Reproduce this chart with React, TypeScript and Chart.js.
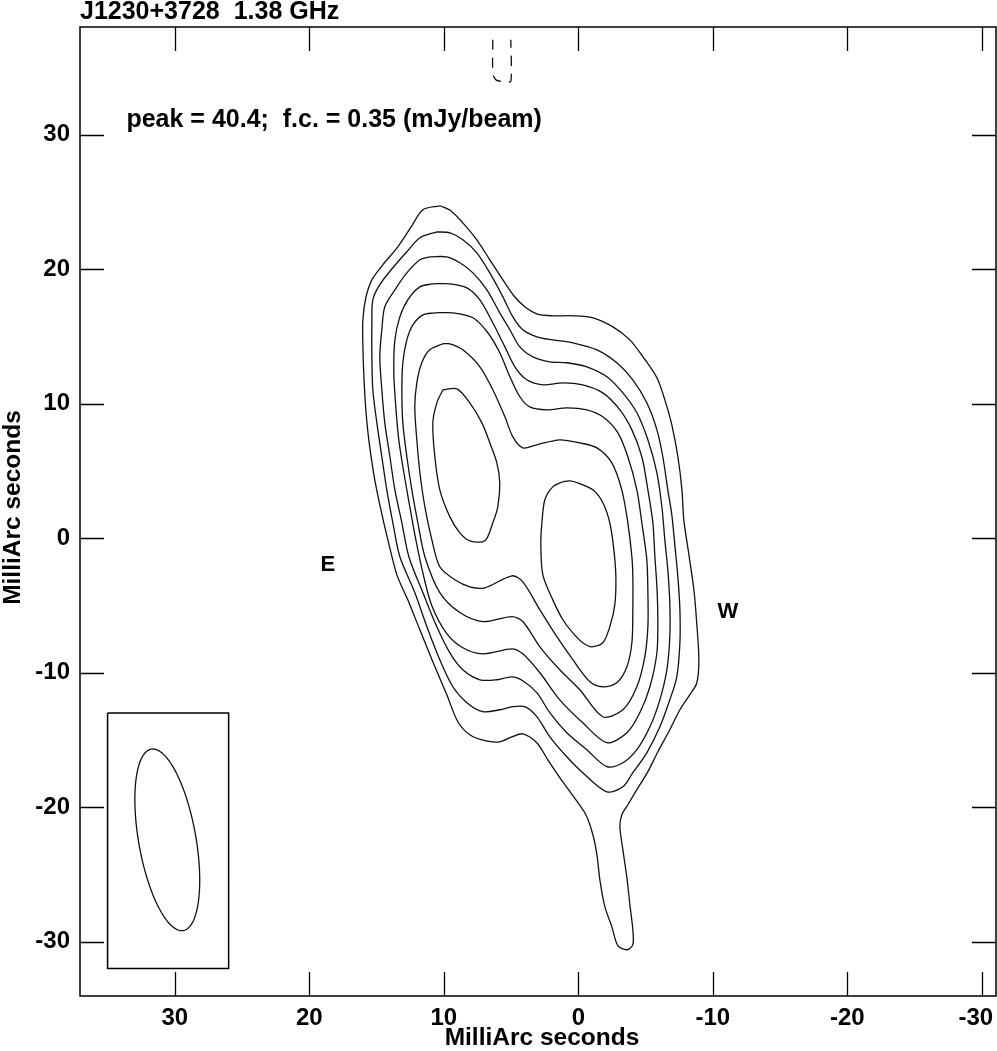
import React, { useEffect, useRef } from 'react';
import { Chart, registerables } from 'chart.js';

Chart.register(...registerables);

// ---------- data ----------
const titleText = 'J1230+3728  1.38 GHz';
const peakText = 'peak = 40.4;  f.c. = 0.35 (mJy/beam)';
const axisTitle = 'MilliArc seconds';

const xTickValues = [30, 20, 10, 0, -10, -20, -30];
const yTickValues = [30, 20, 10, 0, -10, -20, -30];
const xMin = -31.05;
const xMax = 37.05;
const yMin = -34.04;
const yMax = 38.0;

// contour levels, outermost (1) to innermost (7, two components)
const contour1: [number, number][] = [
  [10.30, 24.71], [11.56, 24.41], [12.38, 23.22], [13.42, 21.66], [14.54, 20.32], [15.35, 19.20],
  [15.80, 17.87], [16.02, 16.23], [16.02, 14.37], [15.95, 12.14], [15.80, 9.54], [15.58, 7.31],
  [15.20, 4.71], [14.76, 2.48], [14.16, -0.13], [13.49, -2.73], [12.68, -4.59], [11.78, -6.82],
  [10.82, -9.19], [9.78, -11.64], [8.96, -13.65], [8.07, -14.62], [6.95, -15.06], [5.84, -15.14],
  [4.94, -14.77], [4.13, -14.55], [3.09, -15.21], [2.27, -16.48], [1.38, -17.81], [0.41, -19.15],
  [-0.56, -20.57], [-1.08, -22.05], [-1.38, -23.54], [-1.60, -25.40], [-1.97, -27.40], [-2.49, -28.89],
  [-2.94, -30.30], [-3.61, -30.60], [-4.05, -30.22], [-4.05, -29.11], [-3.83, -27.25], [-3.61, -25.25],
  [-3.31, -23.16], [-3.09, -21.45], [-3.23, -20.57], [-3.68, -19.82], [-4.35, -18.70], [-5.17, -17.36],
  [-5.91, -15.88], [-6.80, -14.25], [-7.55, -12.76], [-8.29, -11.64], [-8.81, -10.75], [-8.96, -9.04],
  [-8.81, -6.44], [-8.59, -3.84], [-8.22, -1.24], [-7.84, 1.36], [-7.70, 3.59], [-7.40, 6.05],
  [-6.95, 8.42], [-6.43, 10.28], [-5.84, 11.92], [-4.80, 13.48], [-3.83, 14.74], [-2.57, 15.71],
  [-1.08, 16.38], [0.41, 16.53], [1.90, 16.53], [3.09, 16.68], [3.98, 17.20], [4.80, 18.02],
  [5.61, 19.20], [6.58, 20.69], [7.55, 22.18], [8.59, 23.44], [9.48, 24.34],
];

const contour2: [number, number][] = [
  [10.52, 22.77], [11.78, 22.33], [12.75, 21.29], [13.79, 20.10], [14.76, 18.84], [15.28, 17.72],
  [15.35, 16.01], [15.35, 13.48], [15.28, 11.03], [14.98, 8.57], [14.61, 6.05], [14.24, 3.59],
  [13.79, 1.14], [13.27, -1.38], [12.16, -4.05], [11.26, -6.59], [10.30, -9.04], [9.33, -11.05],
  [8.29, -12.23], [7.10, -12.90], [5.84, -12.76], [4.87, -12.53], [3.98, -12.53], [3.09, -13.27],
  [2.12, -14.77], [0.86, -16.25], [-0.33, -17.44], [-2.12, -18.86], [-3.31, -18.49], [-4.05, -17.44],
  [-5.09, -15.96], [-6.06, -14.03], [-6.80, -12.02], [-7.32, -10.31], [-7.55, -7.78], [-7.55, -5.33],
  [-7.40, -2.88], [-7.17, -0.50], [-6.95, 1.73], [-6.65, 3.59], [-6.28, 6.05], [-5.84, 8.05],
  [-5.09, 10.06], [-4.05, 11.77], [-2.86, 13.04], [-1.38, 14.00], [0.41, 14.52], [1.90, 14.74],
  [3.09, 14.97], [4.13, 15.49], [4.87, 16.45], [5.61, 17.94], [6.58, 19.72], [7.55, 21.21],
  [8.59, 22.18], [9.55, 22.70],
];

const contour3: [number, number][] = [
  [11.04, 20.91], [11.78, 20.69], [12.75, 19.72], [13.64, 18.46], [14.39, 17.20], [14.61, 15.49],
  [14.76, 13.48], [14.61, 11.03], [14.39, 8.57], [14.01, 6.05], [13.64, 3.59], [13.12, 1.14],
  [12.60, -1.38], [11.56, -4.05], [10.52, -6.59], [9.55, -8.53], [8.59, -9.79], [7.32, -10.53],
  [6.06, -10.53], [4.94, -10.31], [4.13, -10.60], [3.09, -11.49], [2.12, -12.98], [0.86, -14.47],
  [-0.63, -15.73], [-2.12, -16.99], [-3.31, -16.70], [-4.35, -15.73], [-5.32, -14.03], [-6.06, -12.02],
  [-6.58, -9.79], [-6.80, -7.33], [-6.80, -4.81], [-6.65, -2.36], [-6.43, -0.13], [-6.21, 2.33],
  [-5.84, 4.86], [-5.17, 7.31], [-4.35, 9.32], [-3.31, 10.80], [-2.12, 12.00], [-0.63, 12.74],
  [0.86, 13.04], [2.12, 13.11], [3.38, 13.48], [4.35, 14.22], [5.09, 15.49], [5.84, 16.75],
  [6.80, 18.46], [7.84, 19.72], [8.81, 20.47], [9.78, 20.91],
];

const contour4: [number, number][] = [
  [10.82, 18.91], [11.78, 18.68], [12.68, 17.72], [13.27, 16.45], [13.64, 14.74], [13.72, 12.29],
  [13.57, 9.76], [13.35, 7.31], [12.97, 4.86], [12.53, 2.33], [12.08, -0.13], [11.56, -2.58],
  [10.90, -5.00], [9.78, -7.10], [8.59, -8.15], [7.10, -8.60], [4.94, -8.23], [4.13, -8.60],
  [2.86, -10.01], [1.38, -12.02], [-0.33, -13.73], [-2.12, -15.21], [-3.61, -14.47], [-4.57, -12.98],
  [-5.32, -11.05], [-5.84, -8.52], [-5.91, -6.07], [-5.84, -3.62], [-5.69, -1.39], [-5.54, 1.14],
  [-5.17, 3.59], [-4.72, 6.05], [-3.98, 8.05], [-3.09, 9.54], [-1.82, 10.80], [-0.33, 11.40],
  [1.15, 11.55], [2.64, 11.40], [3.83, 11.77], [4.72, 12.74], [5.46, 14.22], [6.36, 16.01],
  [7.32, 17.72], [8.29, 18.61], [9.55, 18.91],
];

const contour5: [number, number][] = [
  [10.67, 16.75], [11.56, 16.60], [12.30, 15.86], [12.75, 14.74], [13.05, 13.04], [13.12, 11.03],
  [13.05, 8.57], [12.75, 6.05], [12.38, 3.59], [11.93, 1.14], [11.41, -1.38], [10.30, -4.05],
  [8.81, -5.53], [7.10, -6.20], [4.94, -5.83], [4.13, -6.20], [2.86, -8.08], [1.38, -9.79],
  [-0.11, -11.27], [-1.82, -13.28], [-3.31, -12.76], [-4.35, -11.05], [-4.94, -8.82], [-5.17, -6.58],
  [-5.17, -4.05], [-5.09, -1.61], [-4.72, 1.14], [-4.35, 3.59], [-3.68, 6.05], [-2.94, 7.83],
  [-1.82, 9.02], [-0.63, 9.54], [0.86, 9.69], [2.34, 9.54], [3.61, 9.76], [4.35, 10.51],
  [5.09, 12.00], [5.84, 13.78], [6.73, 15.27], [7.84, 16.38], [9.33, 16.75],
];

const contour6: [number, number][] = [
  [10.07, 14.45], [11.04, 14.00], [11.64, 13.04], [12.01, 11.55], [12.16, 9.76], [12.01, 7.31],
  [11.78, 4.86], [11.41, 2.33], [10.89, -0.13], [10.30, -2.13], [9.18, -3.10], [8.07, -3.62],
  [6.95, -3.69], [4.94, -2.80], [4.13, -3.25], [2.86, -5.33], [1.60, -7.33], [0.41, -9.04],
  [-0.86, -10.68], [-1.82, -11.05], [-2.86, -10.75], [-3.61, -9.56], [-3.98, -7.78], [-4.05, -5.33],
  [-4.05, -2.88], [-3.98, -1.39], [-3.68, 1.14], [-3.23, 3.59], [-2.49, 5.60], [-1.38, 6.71],
  [-0.11, 7.08], [1.38, 7.31], [3.09, 6.94], [4.13, 6.71], [4.87, 7.53], [5.46, 9.02],
  [6.36, 11.03], [7.32, 12.74], [8.59, 14.00], [9.55, 14.45],
];

const contour7East: [number, number][] = [
  [10.07, 11.03], [10.52, 10.06], [10.82, 8.57], [10.67, 6.05], [10.30, 3.59], [9.55, 1.58],
  [8.81, 0.39], [8.07, -0.20], [6.95, -0.20], [6.36, 1.14], [5.99, 2.33], [5.84, 4.11],
  [6.06, 5.60], [6.58, 7.08], [7.17, 8.57], [8.07, 10.06], [9.03, 11.10],
];

const contour7West: [number, number][] = [
  [1.15, 4.19], [1.90, 3.81], [2.49, 2.85], [2.71, 1.14], [2.79, -0.50], [2.64, -2.73],
  [1.90, -4.59], [1.15, -6.07], [0.41, -7.04], [-0.33, -7.78], [-1.00, -8.08], [-1.82, -7.78],
  [-2.34, -6.58], [-2.71, -4.96], [-2.79, -2.88], [-2.64, -0.87], [-2.34, 1.14], [-1.82, 2.63],
  [-1.08, 3.59], [0.04, 4.11], [0.63, 4.26],
];

// negative (dashed) contour near the top edge
const negativeContour: [number, number][] = [
  [6.36, 37.05], [6.36, 34.5], [6.1, 34.05], [5.6, 33.93], [5.02, 33.95], [5.02, 37.05],
];

// restoring beam (box corners and ellipse parameters)
const beamBox: [number, number][] = [[35, -13], [26, -13], [26, -32], [35, -32], [35, -13]];
const beamCenter: [number, number] = [30.56, -22.43];
const beamSemiMajor = 6.85;
const beamSemiMinor = 2.13;
const beamPA = 10; // degrees, east of north

// text labels
const eastLabel: [number, number] = [18.62, -1.99];
const westLabel: [number, number] = [-11.12, -5.48];
const peakLabelPos: [number, number] = [33.6, 31.17];

const FONT = '"Liberation Sans", Arial, Helvetica, sans-serif';

function toXY(arr: [number, number][], close: boolean) {
  const pts = arr.map(([x, y]) => ({ x, y }));
  if (close) pts.push({ ...pts[0] });
  return pts;
}

function beamEllipse() {
  const pa = (beamPA * Math.PI) / 180;
  const pts: { x: number; y: number }[] = [];
  for (let i = 0; i <= 90; i++) {
    const t = (i / 90) * Math.PI * 2;
    const a = beamSemiMajor * Math.cos(t);
    const b = beamSemiMinor * Math.sin(t);
    pts.push({
      x: beamCenter[0] + a * Math.sin(pa) + b * Math.cos(pa),
      y: beamCenter[1] + a * Math.cos(pa) - b * Math.sin(pa),
    });
  }
  return pts;
}

const overlayPlugin = {
  id: 'overlay',
  afterDraw(chart: any) {
    const { ctx, chartArea: a, scales } = chart;
    const xs = scales.x;
    const ys = scales.y;
    ctx.save();
    ctx.strokeStyle = '#000';
    ctx.lineWidth = 1.5;
    ctx.strokeRect(a.left, a.top, a.right - a.left, a.bottom - a.top);
    ctx.lineWidth = 1.3;
    ctx.beginPath();
    const tl = 24;
    for (const v of xTickValues) {
      const px = Math.round(xs.getPixelForValue(v)) + 0.5;
      ctx.moveTo(px, a.bottom);
      ctx.lineTo(px, a.bottom - tl);
      ctx.moveTo(px, a.top);
      ctx.lineTo(px, a.top + tl);
    }
    for (const v of yTickValues) {
      const py = Math.round(ys.getPixelForValue(v)) + 0.5;
      ctx.moveTo(a.left, py);
      ctx.lineTo(a.left + tl, py);
      ctx.moveTo(a.right, py);
      ctx.lineTo(a.right - tl, py);
    }
    ctx.stroke();

    ctx.fillStyle = '#000';
    ctx.font = `bold 25px ${FONT}`;
    ctx.textAlign = 'left';
    ctx.textBaseline = 'alphabetic';
    ctx.fillText(titleText, a.left, 19);
    ctx.fillText(peakText, xs.getPixelForValue(peakLabelPos[0]), ys.getPixelForValue(peakLabelPos[1]) + 8);

    ctx.font = `bold 24.5px ${FONT}`;
    ctx.textAlign = 'center';
    ctx.fillText(axisTitle, (a.left + a.right) / 2 + 4, 1045);

    ctx.save();
    ctx.translate(20, (a.top + a.bottom) / 2 - 4);
    ctx.rotate(-Math.PI / 2);
    ctx.fillText(axisTitle, 0, 0);
    ctx.restore();

    ctx.font = `bold 22px ${FONT}`;
    ctx.textBaseline = 'middle';
    ctx.fillText('E', xs.getPixelForValue(eastLabel[0]), ys.getPixelForValue(eastLabel[1]));
    ctx.fillText('W', xs.getPixelForValue(westLabel[0]), ys.getPixelForValue(westLabel[1]));
    ctx.restore();
  },
};

export default function App() {
  const canvasRef = useRef<HTMLCanvasElement | null>(null);

  useEffect(() => {
    document.body.style.margin = '0';
    const canvas = canvasRef.current;
    if (!canvas) return;
    const lineStyle = {
      showLine: true,
      pointRadius: 0,
      borderColor: '#111',
      borderWidth: 1.3,
      tension: 0.3,
      fill: false,
    };
    const contours = [contour1, contour2, contour3, contour4, contour5, contour6, contour7East, contour7West];
    const datasets: any[] = contours.map((c, i) => ({
      label: `contour ${i + 1}`,
      data: toXY(c, true),
      ...lineStyle,
    }));
    datasets.push({
      label: 'negative',
      data: toXY(negativeContour, false),
      ...lineStyle,
      borderDash: [10, 8],
      tension: 0.2,
    });
    datasets.push({
      label: 'beam box',
      data: toXY(beamBox, false),
      ...lineStyle,
      borderWidth: 1.5,
      borderColor: '#000',
      tension: 0.0001,
    });
    datasets.push({
      label: 'beam',
      data: beamEllipse(),
      ...lineStyle,
      tension: 0.0001,
    });

    const tickFont = { family: FONT, size: 24, weight: 'bold' as const };
    const lastX = xTickValues[xTickValues.length - 1];

    const chart = new Chart(canvas, {
      type: 'scatter',
      data: { datasets },
      options: {
        animation: false,
        responsive: false,
        devicePixelRatio: 1,
        layout: { padding: { top: 27, right: 1, left: 0, bottom: 0 } },
        plugins: { legend: { display: false }, tooltip: { enabled: false }, title: { display: false } },
        scales: {
          x: {
            type: 'linear',
            min: xMin,
            max: xMax,
            reverse: true,
            grid: { display: false, drawTicks: false },
            border: { display: false },
            afterBuildTicks: (s: any) => {
              s.ticks = xTickValues.map((v) => ({ value: v }));
            },
            afterFit: (s: any) => {
              s.height = 55;
              s.paddingLeft = 0;
              s.paddingRight = 0;
            },
            ticks: {
              autoSkip: false,
              maxRotation: 0,
              padding: 8,
              color: '#000',
              font: tickFont,
              // the edge label is nudged inward so it stays on the canvas
              callback: (v: any) => (Number(v) === lastX ? `${v}\u2002` : String(v)),
            },
          },
          y: {
            type: 'linear',
            min: yMin,
            max: yMax,
            grid: { display: false, drawTicks: false },
            border: { display: false },
            afterBuildTicks: (s: any) => {
              s.ticks = yTickValues.map((v) => ({ value: v }));
            },
            afterFit: (s: any) => {
              s.width = 80;
              s.paddingTop = 0;
              s.paddingBottom = 0;
            },
            ticks: {
              autoSkip: false,
              padding: 10,
              color: '#000',
              font: tickFont,
              callback: (v: any) => String(v),
            },
          },
        },
      },
      plugins: [overlayPlugin],
    });
    return () => chart.destroy();
  }, []);

  return (
    <div style={{ position: 'absolute', left: 0, top: 0, width: 997, height: 1051, background: '#fff' }}>
      <canvas ref={canvasRef} width={997} height={1051} />
    </div>
  );
}
